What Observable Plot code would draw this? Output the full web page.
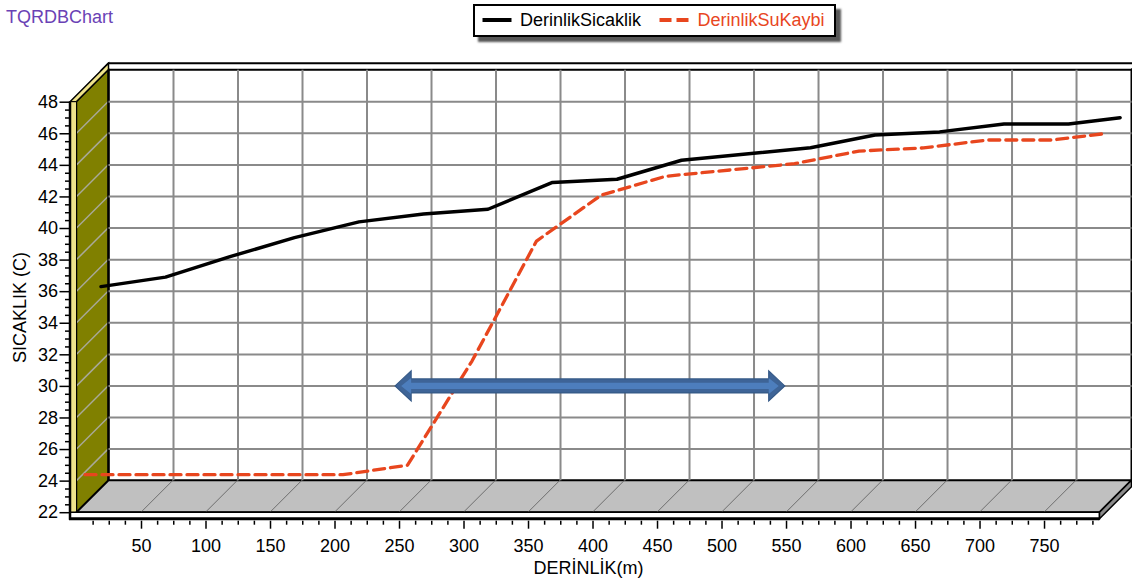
<!DOCTYPE html>
<html>
<head>
<meta charset="utf-8">
<script src="https://cdn.jsdelivr.net/npm/d3@7"></script>
<script src="https://cdn.jsdelivr.net/npm/@observablehq/plot@0.6"></script>
<style>
  body { margin: 0; background: #ffffff; }
  #chart { position: relative; width: 1132px; height: 582px; font-family: "Liberation Sans", Arial, sans-serif; }
  #chart svg.plot { position: absolute; left: 0; top: 0; }
  #title { position: absolute; left: 6px; top: 7.5px; font-size: 18px; line-height: 18px; color: #6a42b5; white-space: nowrap; }
  #legend { position: absolute; left: 473px; top: 4px; width: 363px; height: 33px; box-sizing: border-box;
            border: 2px solid #000; background: #fff; box-shadow: 5px 5px 2px rgba(45,45,45,0.8);
            font-size: 18px; line-height: 18px; }
  #legend .lbl { position: absolute; top: 4.5px; white-space: nowrap; }
  #legend svg { position: absolute; top: 0; }
</style>
</head>
<body>
<div id="chart">
  <div id="title">TQRDBChart</div>
  <div id="legend">
    <svg width="32" height="28" style="left:6px"><line x1="1.5" x2="30.5" y1="14" y2="14" stroke="#000" stroke-width="4"/></svg>
    <span class="lbl" style="left:45px;color:#000">DerinlikSicaklik</span>
    <svg width="32" height="28" style="left:183px"><line x1="1.5" x2="30.5" y1="14" y2="14" stroke="#e8461e" stroke-width="4" stroke-dasharray="12,5"/></svg>
    <span class="lbl" style="left:222.5px;color:#e8461e">DerinlikSuKaybi</span>
  </div>
</div>
<script>
// Depth (m) of each measurement
const depths = [0, 50, 100, 150, 200, 250, 300, 350, 400, 450, 500, 550, 600, 650, 700, 750, 790];
// Temperature along depth (C)
const sicaklik = [34.8, 35.4, 36.7, 37.9, 38.9, 39.4, 39.7, 41.4, 41.6, 42.8, 43.2, 43.6, 44.4, 44.6, 45.1, 45.1, 45.5];
// Temperature along depth with water loss (C)
const suKaybi = [23.9, 23.9, 23.9, 23.9, 23.9, 24.5, 31.1, 38.7, 41.6, 42.8, 43.2, 43.6, 44.4, 44.6, 45.1, 45.1, 45.5];

// Axis ticks
const xTicks = [50, 100, 150, 200, 250, 300, 350, 400, 450, 500, 550, 600, 650, 700, 750];
const yTicks = [22, 24, 26, 28, 30, 32, 34, 36, 38, 40, 42, 44, 46, 48];
const xMinor = d3.range(12.5, 790, 12.5).filter(v => v % 50 !== 0);
const yMinor = d3.range(22.5, 48, 0.5).filter(v => v % 2 !== 0);

// Water-loss zone marker (depth range, temperature level)
const arrowSpan = [247, 549];
const arrowLevel = 30;

const xMax = 793, yMin = 22, yMax = 48;
const depth3d = 32;   // pseudo-3D depth of the chart box (px)
const wall = 6.5;     // wall thickness (px)

const rowsSicaklik = depths.map((d, i) => ({depth: d, value: sicaklik[i]}));
const rowsSuKaybi = depths.map((d, i) => ({depth: d, value: suKaybi[i]}));

// Left wall, floor and back-wall edges of the 3D box
function box(index, scales) {
  const X = scales.x, Y = scales.y, D = depth3d, T = wall;
  const xl = X(0), xr = X(xMax), yb = Y(yMin), yt = Y(yMax);
  const g = d3.create("svg:g").attr("stroke-linejoin", "miter");
  const poly = (pts, fill, stroke, sw) => g.append("polygon")
    .attr("points", pts.map(p => p.join(",")).join(" "))
    .attr("fill", fill).attr("stroke", stroke || "none").attr("stroke-width", sw || 0);
  const line = (x1, y1, x2, y2, stroke, sw) => g.append("line")
    .attr("x1", x1).attr("y1", y1).attr("x2", x2).attr("y2", y2)
    .attr("stroke", stroke).attr("stroke-width", sw);

  // back wall top strip
  poly([[xl + D - T, yt - D], [xr + D, yt - D], [xr + D + T, yt - D - T], [xl + D, yt - D - T]], "#ffffff", "#000", 2);
  // left wall top face
  poly([[xl - T, yt], [xl, yt], [xl + D, yt - D], [xl + D, yt - D - T], [xl + D - T, yt - D]], "#efe38a", "#000", 1.5);
  // left wall inner face
  poly([[xl, yt], [xl + D, yt - D], [xl + D, yb - D], [xl, yb]], "#808000", "#000", 1.5);
  for (const v of yTicks) {
    if (v === yMin || v === yMax) continue;
    line(xl, Y(v), xl + D, Y(v) - D, "#a9a99a", 1.5);
  }
  line(xl + D, yt - D, xl + D, yb - D, "#000", 2.5);
  // left wall front face
  poly([[xl - T, yt], [xl, yt], [xl, yb + T], [xl - T, yb + T]], "#efe38a", "#000", 1);
  // floor top face
  poly([[xl, yb], [xr, yb], [xr + D, yb - D], [xl + D, yb - D]], "#c0c0c0", "#000", 2);
  for (const t of xTicks) line(X(t), yb, X(t) + D, yb - D, "#6e6e6e", 1);
  // floor front and right faces
  poly([[xl - T, yb], [xr, yb], [xr, yb + T], [xl - T, yb + T]], "#ffffff", "#000", 1.5);
  poly([[xr, yb], [xr + D, yb - D], [xr + D, yb - D + T], [xr, yb + T]], "#8c8c8c", "#000", 1.5);
  // back wall right edge
  line(xr + D, yt - D, xr + D, yb - D, "#000", 2);
  // outer frame: axis lines
  line(xl - T, yt, xl - T, yb + T + 1, "#000", 2.5);
  line(xl - T - 1, yb + T, xr, yb + T, "#000", 3);
  return g.node();
}

// Double-headed arrow over the water-loss zone
function zoneArrow(index, scales) {
  const xa = scales.x(arrowSpan[0]), xb = scales.x(arrowSpan[1]), ym = scales.y(arrowLevel);
  const shape = (a, b, h, H, L) => [
    [a, ym], [a + L, ym - H], [a + L, ym - h], [b - L, ym - h], [b - L, ym - H],
    [b, ym], [b - L, ym + H], [b - L, ym + h], [a + L, ym + h], [a + L, ym + H]
  ];
  const g = d3.create("svg:g");
  g.append("polygon").attr("points", shape(xa, xb, 7, 15, 16).map(p => p.join(",")).join(" "))
    .attr("fill", "#3e6497").attr("stroke", "#355987").attr("stroke-width", 1.2);
  g.append("polygon").attr("points", shape(xa + 6, xb - 6, 3.2, 8, 10).map(p => p.join(",")).join(" "))
    .attr("fill", "#4d7ebd");
  return g.node();
}

const font = '"Liberation Sans", Arial, sans-serif';

const chart = Plot.plot({
  width: 1132,
  height: 582,
  marginLeft: 76.5,
  marginRight: 32.5,
  marginTop: 101.7,
  marginBottom: 69.8,
  x: {domain: [0, xMax], axis: null},
  y: {domain: [yMin, yMax], axis: null},
  style: {fontFamily: font, fontSize: "18px", background: "transparent", color: "#000"},
  marks: [
    box,
    Plot.gridX({ticks: xTicks, dx: depth3d, dy: -depth3d, stroke: "#8a8a8a", strokeOpacity: 1, strokeWidth: 2}),
    Plot.gridY({ticks: yTicks.filter(v => v !== yMin && v !== yMax), dx: depth3d, dy: -depth3d, stroke: "#8a8a8a", strokeOpacity: 1, strokeWidth: 2}),
    Plot.line(rowsSicaklik, {x: "depth", y: "value", stroke: "#000", strokeWidth: 3.5, dx: 24, dy: -24}),
    Plot.line(rowsSuKaybi, {x: "depth", y: "value", stroke: "#e8461e", strokeWidth: 3.3, strokeDasharray: "11,6", dx: 8, dy: -8}),
    zoneArrow,
    Plot.axisY({ticks: yTicks, anchor: "left", label: null, tickSize: 10.5, tickPadding: 2, dx: -wall, fontSize: 18, strokeWidth: 1.5}),
    Plot.axisY({ticks: yMinor, anchor: "left", label: null, tickSize: 5, tickFormat: () => "", dx: -wall, strokeWidth: 1.5}),
    Plot.axisX({ticks: xTicks, anchor: "bottom", label: null, tickSize: 8, tickPadding: 9.6, dy: wall + 2, fontSize: 18, strokeWidth: 1.5}),
    Plot.axisX({ticks: xMinor, anchor: "bottom", label: null, tickSize: 4, tickFormat: () => "", dy: wall + 2, strokeWidth: 1.5}),
    Plot.text(["SICAKLIK (C)"], {frameAnchor: "left", dx: -56.5, rotate: -90, textAnchor: "middle", lineAnchor: "middle", fontSize: 18, fill: "#000"}),
    Plot.text(["DERİNLİK(m)"], {frameAnchor: "bottom", dy: 56, textAnchor: "middle", lineAnchor: "middle", fontSize: 18, fill: "#000"})
  ]
});

document.getElementById("chart").prepend(chart);
</script>
</body>
</html>
